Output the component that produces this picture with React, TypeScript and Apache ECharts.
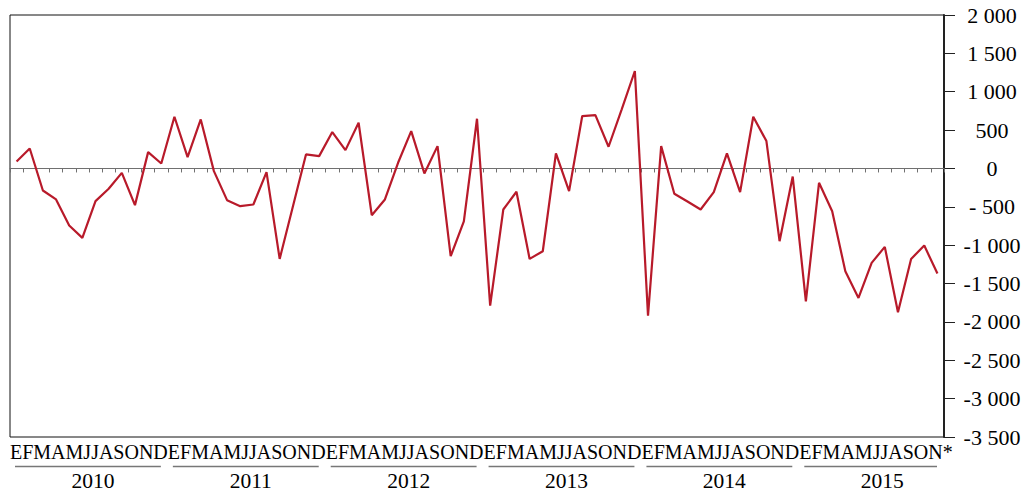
import React, { useEffect, useRef } from "react";
import * as echarts from "echarts";

const monthLetters = ["E", "F", "M", "A", "M", "J", "J", "A", "S", "O", "N", "D"];
const years = ["2010", "2011", "2012", "2013", "2014", "2015"];
const yearMonthText = [
  "EFMAMJJASOND",
  "EFMAMJJASOND",
  "EFMAMJJASOND",
  "EFMAMJJASOND",
  "EFMAMJJASOND",
  "EFMAMJJASON*",
];
const yearStart = [0, 12, 24, 36, 48, 60];
const yearEnd = [11, 23, 35, 47, 59, 70];

const values = [
  90, 260, -287, -404, -744, -905, -426, -265, -57, -478, 213, 65,
  674, 148, 639, -35, -413, -491, -470, -48, -1179, -500, 183, 161,
  474, 239, 596, -609, -404, 74, 487, -65, 291, -1144, -690, 648,
  -1788, -535, -304, -1179, -1079, 196, -296, 683, 696, 283, 770, 1270,
  -1918, 291, -330, -430, -535, -309, 196, -309, 674, 357, -948, -105,
  -1731, -187, -557, -1340, -1688, -1231, -1022, -1874, -1179, -1005, -1370,
];

const yTickValues = [-3500, -3000, -2500, -2000, -1500, -1000, -500, 0, 500, 1000, 1500, 2000];
const yTickLabels = ["-3 500", "-3 000", "-2 500", "-2 000", "-1 500", "-1 000", "- 500", "0", "500", "1 000", "1 500", "2 000"];

const categories = values.map((_, i) => monthLetters[i % 12] + " " + years[Math.floor(i / 12)]);

const SERIF = '"Liberation Serif", "Times New Roman", serif';

export default function App() {
  const ref = useRef<HTMLDivElement>(null);
  useEffect(() => {
    document.body.style.margin = "0";
    if (!ref.current) return;
    const chart = echarts.init(ref.current, null, { renderer: "svg" });
    chart.setOption({
      animation: false,
      backgroundColor: "#fff",
      grid: {
        left: 10,
        right: 85,
        top: 15,
        bottom: 54,
        show: true,
        borderColor: "#111",
        borderWidth: 1,
        backgroundColor: "transparent",
      },
      xAxis: {
        type: "category",
        data: categories,
        boundaryGap: true,
        axisLine: { show: true, onZero: true, lineStyle: { color: "#707070", width: 1 } },
        axisTick: { show: true, length: 4, interval: 0, lineStyle: { color: "#707070", width: 1 } },
        axisLabel: { show: false },
        splitLine: { show: false },
      },
      yAxis: {
        type: "value",
        position: "right",
        min: -3500,
        max: 2000,
        interval: 500,
        axisLine: { show: true, lineStyle: { color: "#222", width: 2 } },
        axisTick: { show: true, length: 11, lineStyle: { color: "#222", width: 1 } },
        axisLabel: {
          margin: 48,
          align: "center",
          fontSize: 22,
          fontFamily: SERIF,
          color: "#000",
          formatter: (v: number) => {
            const idx = yTickValues.indexOf(v);
            return idx >= 0 ? yTickLabels[idx] : "";
          },
        },
        splitLine: { show: false },
      },
      series: [
        {
          type: "line",
          data: values,
          symbol: "none",
          lineStyle: { color: "#b81a2a", width: 2.2 },
          z: 3,
        },
        {
          type: "custom",
          silent: true,
          clip: false,
          data: years.map((_, k) => [yearStart[k], -3500]),
          renderItem: (params: any, api: any) => {
            const k = params.dataIndex;
            const p0 = api.coord([yearStart[k], -3500]);
            const p1 = api.coord([yearStart[k] + 1, -3500]);
            const band = p1[0] - p0[0];
            const x0 = p0[0] - band / 2;
            const x1 = api.coord([yearEnd[k], -3500])[0] + band / 2;
            const bottom = p0[1];
            const yearCenter = x0 + (band * 12) / 2 + 4;
            return {
              type: "group",
              children: [
                {
                  type: "text",
                  style: {
                    text: yearMonthText[k],
                    x: x0,
                    y: bottom + 15,
                    textAlign: "left",
                    textVerticalAlign: "middle",
                    font: "20px " + SERIF,
                    fill: "#000",
                  },
                },
                {
                  type: "line",
                  shape: { x1: x0 + 5, y1: bottom + 29.5, x2: x1 - 7, y2: bottom + 29.5 },
                  style: { stroke: "#777", lineWidth: 1.5 },
                },
                {
                  type: "text",
                  style: {
                    text: years[k],
                    x: yearCenter,
                    y: bottom + 43.5,
                    textAlign: "center",
                    textVerticalAlign: "middle",
                    font: "21.5px " + SERIF,
                    fill: "#000",
                  },
                },
              ],
            };
          },
        },
      ],
    });
    return () => chart.dispose();
  }, []);
  return <div ref={ref} style={{ width: 1029, height: 491 }} />;
}
